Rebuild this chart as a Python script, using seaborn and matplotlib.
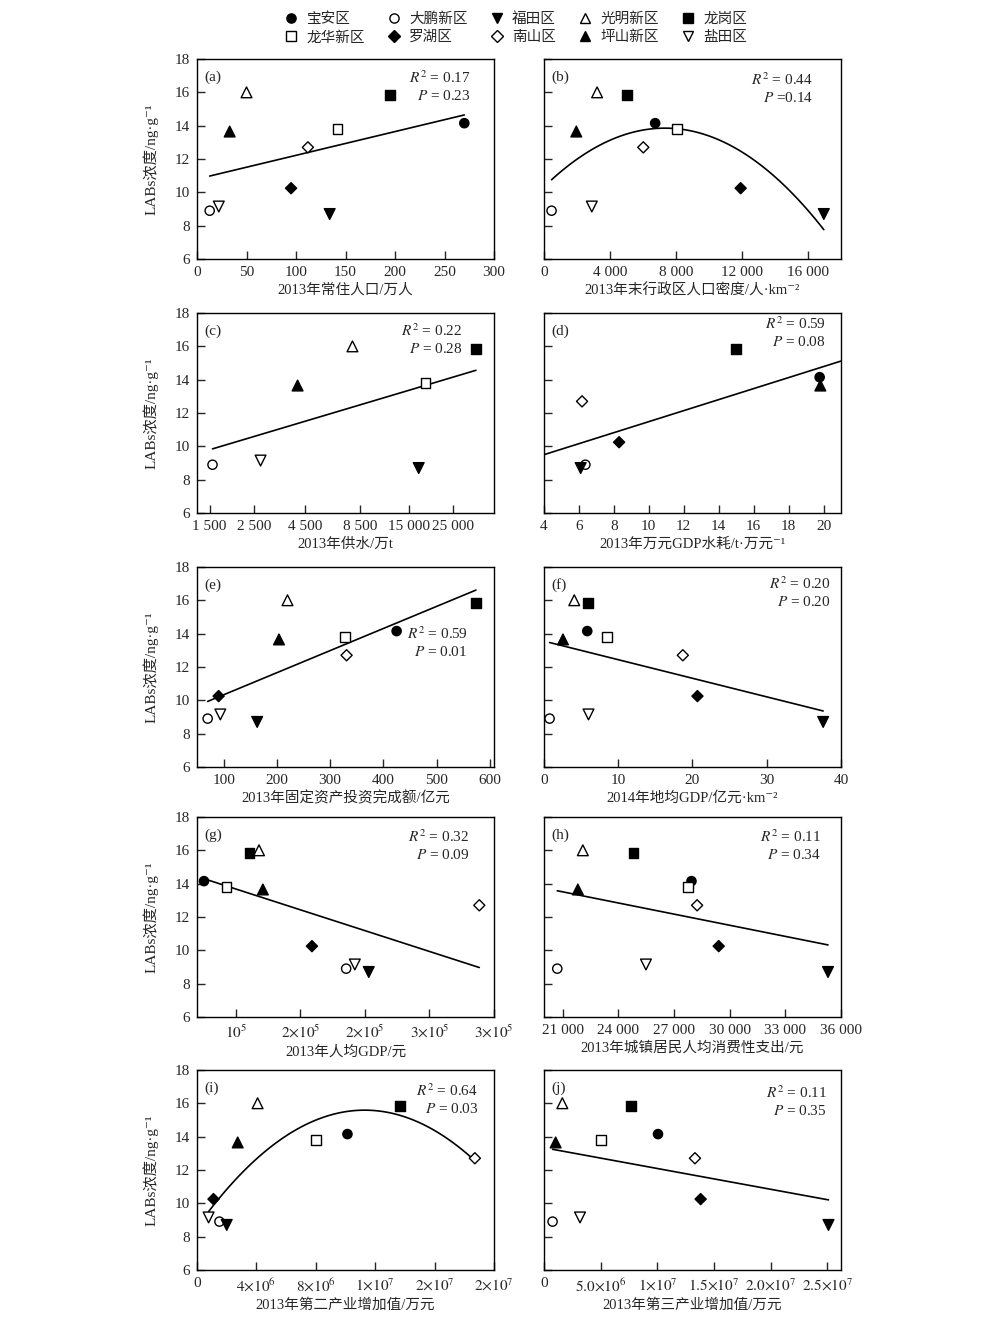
import numpy as np
import pandas as pd
import matplotlib
matplotlib.use("Agg")
import matplotlib.pyplot as plt
from matplotlib.lines import Line2D
import seaborn as sns

# ---------------- data ----------------
districts = ['宝安区', '大鹏新区', '福田区', '光明新区', '龙岗区',
             '龙华新区', '罗湖区', '南山区', '坪山新区', '盐田区']
labs = [14.15, 8.9, 8.7, 16.0, 15.85, 13.8, 10.25, 12.7, 13.65, 9.15]

pop_2013 = [270, 12.8, 134, 50, 195, 142, 95, 112, 33, 22]
density_2013 = [6740, 460, 16960, 3220, 5020, 8060, 11920, 6020, 1960, 2900]
water_supply = [np.nan, 1550, 16760, 7800, 32460, 18100, np.nan, np.nan, 4140, 2700]
water_per_gdp = [19.78, 6.37, 6.1, np.nan, 15.0, np.nan, 8.3, 6.18, 19.82, np.nan]
fixed_invest = [425, 70, 163, 220, 574, 328, 90.6, 331, 204, 93.8]
gdp_density = [5.83, 0.76, 37.6, 4.08, 5.96, 8.5, 20.67, 18.7, 2.56, 6.0]
gdp_per_capita = [75400, 185500, 203000, 118000, 110700, 92700, 159000, 288600, 121000, 192200]
consumption = [27946, 20716, 35302, 22094, 24814, 27767, 29414, 28250, 21826, 25494]
secondary_ind = [10.13e6, 1.51e6, 2.0e6, 4.08e6, 13.65e6, 8.02e6, 1.11e6, 18.71e6, 2.74e6, 0.78e6]
tertiary_ind = [10.06e6, 0.76e6, 25.1e6, 1.62e6, 7.68e6, 5.03e6, 13.82e6, 13.32e6, 1.03e6, 3.18e6]

r2_text = ['0.17', '0.44', '0.22', '0.59', '0.59', '0.20', '0.32', '0.11', '0.64', '0.11']
p_text = ['= 0.23', '=0.14', '= 0.28', '= 0.08', '= 0.01', '= 0.20', '= 0.09', '= 0.34', '= 0.03', '= 0.35']

ticks_a = [0, 50, 100, 150, 200, 250, 300]
ticks_b = [0, 4000, 8000, 12000, 16000]
labels_b = ['0', '4 000', '8 000', '12 000', '16 000']
ticks_c = [1500, 2500, 4500, 8500, 15000, 25000]
labels_c = ['1 500', '2 500', '4 500', '8 500', '15 000', '25 000']
ticks_d = [4, 6, 8, 10, 12, 14, 16, 18, 20]
ticks_e = [100, 200, 300, 400, 500, 600]
ticks_f = [0, 10, 20, 30, 40]
ticks_g = [100000, 150000, 200000, 250000, 300000]
labels_g = [r'$10^5$', r'$2{\times}10^5$', r'$2{\times}10^5$', r'$3{\times}10^5$', r'$3{\times}10^5$']
ticks_h = [21000, 24000, 27000, 30000, 33000, 36000]
labels_h = ['21 000', '24 000', '27 000', '30 000', '33 000', '36 000']
ticks_i = [0, 4e6, 8e6, 1.2e7, 1.6e7, 2.0e7]
labels_i = ['0', r'$4{\times}10^6$', r'$8{\times}10^6$', r'$1{\times}10^7$', r'$2{\times}10^7$', r'$2{\times}10^7$']
ticks_j = [0, 5e6, 1e7, 1.5e7, 2e7, 2.5e7]
labels_j = ['0', r'$5.0{\times}10^6$', r'$1{\times}10^7$', r'$1.5{\times}10^7$', r'$2.0{\times}10^7$', r'$2.5{\times}10^7$']
y_ticks = [6, 8, 10, 12, 14, 16, 18]

# ---------------- style ----------------
sns.set_style('ticks')
plt.rcParams['font.family'] = ['Liberation Serif', 'DejaVu Serif', 'Noto Sans CJK SC']
plt.rcParams['mathtext.fontset'] = 'stix'
plt.rcParams['axes.unicode_minus'] = False
plt.rcParams['axes.linewidth'] = 1.0
plt.rcParams['axes.edgecolor'] = 'black'

FS = 10.5
TFS = 11
marker_map = {'宝安区': 'o', '大鹏新区': 'o', '福田区': 'v', '光明新区': '^', '龙岗区': 's',
              '龙华新区': 's', '罗湖区': 'D', '南山区': 'D', '坪山新区': '^', '盐田区': 'v'}
face_map = {'宝安区': 'black', '大鹏新区': 'white', '福田区': 'black', '光明新区': 'white',
            '龙岗区': 'black', '龙华新区': 'white', '罗湖区': 'black', '南山区': 'white',
            '坪山新区': 'black', '盐田区': 'white'}
shape_size = {'o': 44, 's': 48, 'D': 32, '^': 60, 'v': 60}
size_map = {d: shape_size[m] for d, m in marker_map.items()}

panels = [
    dict(tag='a', x=pop_2013, xlabel='2013年常住人口/万人', xlim=(0, 300), ticks=ticks_a, labels=None,
         order=1, logx=False, trunc=True, tx=0.92, ty=0.905),
    dict(tag='b', x=density_2013, xlabel='2013年末行政区人口密度/人·km⁻²', xlim=(0, 18000), ticks=ticks_b,
         labels=labels_b, order=2, logx=False, trunc=True, tx=0.905, ty=0.895),
    dict(tag='c', x=water_supply, xlabel='2013年供水/万t', xlim=(1296, 40000), ticks=ticks_c, labels=labels_c,
         order=1, logx=True, trunc=True, tx=0.893, ty=0.913),
    dict(tag='d', x=water_per_gdp, xlabel='2013年万元GDP水耗/t·万元⁻¹', xlim=(4, 21), ticks=ticks_d, labels=None,
         order=1, logx=False, trunc=False, tx=0.947, ty=0.947),
    dict(tag='e', x=fixed_invest, xlabel='2013年固定资产投资完成额/亿元', xlim=(50, 608), ticks=ticks_e, labels=None,
         order=1, logx=False, trunc=True, tx=0.91, ty=0.667),
    dict(tag='f', x=gdp_density, xlabel='2014年地均GDP/亿元·km⁻²', xlim=(0, 40), ticks=ticks_f, labels=None,
         order=1, logx=False, trunc=True, tx=0.964, ty=0.917),
    dict(tag='g', x=gdp_per_capita, xlabel='2013年人均GDP/元', xlim=(70000, 300000), ticks=ticks_g, labels=labels_g,
         order=1, logx=False, trunc=True, tx=0.917, ty=0.90),
    dict(tag='h', x=consumption, xlabel='2013年城镇居民人均消费性支出/元', xlim=(20000, 36000), ticks=ticks_h,
         labels=labels_h, order=1, logx=False, trunc=True, tx=0.934, ty=0.90),
    dict(tag='i', x=secondary_ind, xlabel='2013年第二产业增加值/万元', xlim=(0, 2.0e7), ticks=ticks_i, labels=labels_i,
         order=2, logx=False, trunc=True, tx=0.947, ty=0.895),
    dict(tag='j', x=tertiary_ind, xlabel='2013年第三产业增加值/万元', xlim=(0, 2.62e7), ticks=ticks_j, labels=labels_j,
         order=1, logx=False, trunc=True, tx=0.953, ty=0.885),
]

fig = plt.figure(figsize=(9.93, 13.23), dpi=100)
lefts = [0.1984, 0.5478]
bottoms = [0.8042, 0.6122, 0.4203, 0.2313, 0.0401]
W, H = 0.2991, 0.1512

for k, p in enumerate(panels):
    row, col = divmod(k, 2)
    ax = fig.add_axes([lefts[col], bottoms[row], W, H])
    df = pd.DataFrame({'district': districts, 'x': p['x'], 'y': labs}).dropna()
    if p['logx']:
        ax.set_xscale('log')
    ax.set_xlim(*p['xlim'])
    ax.set_ylim(6, 18)
    sns.regplot(data=df, x='x', y='y', scatter=False, ci=None, order=p['order'], logx=p['logx'],
                truncate=p['trunc'], color='black', line_kws={'lw': 1.2}, ax=ax)
    sns.scatterplot(data=df, x='x', y='y', hue='district', style='district', size='district',
                    palette=face_map, markers=marker_map, sizes=size_map,
                    edgecolor='black', linewidth=1.0, legend=False, ax=ax, zorder=3)
    ax.set_xlim(*p['xlim'])
    ax.set_ylim(6, 18)
    ax.minorticks_off()
    ax.set_xticks(p['ticks'])
    if p['labels'] is not None:
        ax.set_xticklabels(p['labels'])
    else:
        ax.set_xticklabels([str(t) for t in p['ticks']])
    ax.set_yticks(y_ticks)
    ax.tick_params(axis='both', direction='in', length=6, width=1.0, labelsize=TFS, pad=5,
                   top=False, right=False)
    ax.set_xlabel(p['xlabel'], fontsize=FS, labelpad=3)
    if col == 0:
        ax.set_ylabel('LABs浓度/ng·g⁻¹', fontsize=FS + 0.5, labelpad=12)
    else:
        ax.set_ylabel('')
        ax.tick_params(axis='y', labelleft=False)
    for s in ax.spines.values():
        s.set_visible(True)
        s.set_linewidth(1.0)
        s.set_color('black')
    ax.text(0.025, 0.91, f"({p['tag']})", transform=ax.transAxes, fontsize=FS + 0.5, ha='left', va='center')
    ax.text(p['tx'], p['ty'], r'$R^2$' + ' = ' + r2_text[k], transform=ax.transAxes,
            fontsize=FS + 0.5, ha='right', va='center')
    ax.text(p['tx'], p['ty'] - 0.092, r'$P$' + ' ' + p_text[k], transform=ax.transAxes,
            fontsize=FS + 0.5, ha='right', va='center')

# legend (row-wise order like the reference)
handles = {d: Line2D([], [], ls='', marker=marker_map[d], markerfacecolor=face_map[d],
                     markeredgecolor='black', markeredgewidth=1.0,
                     markersize=np.sqrt(size_map[d])) for d in districts}
order = [0, 5, 1, 6, 2, 7, 3, 8, 4, 9]
fig.legend([handles[districts[i]] for i in order], [districts[i] for i in order],
           ncol=5, loc='center', bbox_to_anchor=(0.519, 0.9785), frameon=False,
           fontsize=FS, handlelength=1.0, handletextpad=0.55, columnspacing=1.5,
           labelspacing=0.3, borderpad=0.2)

fig.savefig('out.png', dpi=100)
